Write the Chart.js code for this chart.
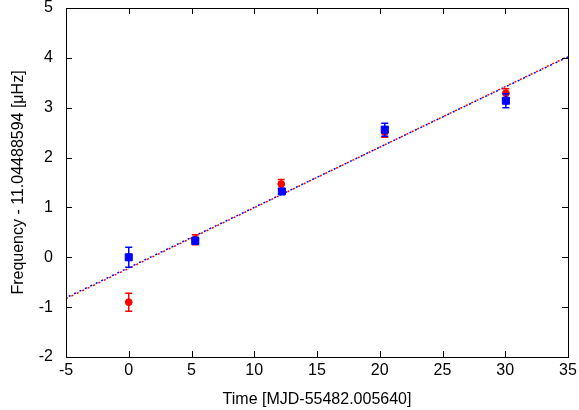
<!DOCTYPE html>
<html lang="en">

<head>
    <meta charset="UTF-8">
    <title>Frequency vs Time</title>
    <style>
        html, body { margin: 0; padding: 0; background: #fff; }
        #wrap { width: 579px; height: 410px; }
    </style>
</head>

<body>
    <div id="wrap"><canvas id="chart" width="579" height="410"></canvas></div>

    <script src="https://cdn.jsdelivr.net/npm/chart.js@4.4.0/dist/chart.umd.min.js"></script>

    <script>
        // data
        var redTime = [0, 5.3, 12.15, 20.4, 30.05];
        var redFreq = [-0.90, 0.35, 1.47, 2.51, 3.29];
        var redErr = [0.18, 0.10, 0.09, 0.10, 0.09];

        var blueTime = [0, 5.3, 12.2, 20.4, 30.05];
        var blueFreq = [0.0, 0.33, 1.32, 2.56, 3.14];
        var blueErr = [0.20, 0.07, 0.05, 0.13, 0.14];

        var fitX = [-5, 35];
        var redFit = [-0.83, 4.03];
        var blueFit = [-0.81, 4.02];

        var xTicks = [-5, 0, 5, 10, 15, 20, 25, 30, 35];
        var yTicks = [-2, -1, 0, 1, 2, 3, 4, 5];

        function pts(xs, ys) {
            return xs.map((x, i) => ({ x: x, y: ys[i] }));
        }

        // error bars drawn just before the points of each dataset
        const errorBars = {
            id: 'errorBars',
            beforeDatasetDraw(chart, args) {
                const ds = chart.data.datasets[args.index];
                if (!ds.errors) return;
                const ctx = chart.ctx;
                const xs = chart.scales.x, ys = chart.scales.y;
                ctx.save();
                ctx.strokeStyle = ds.borderColor;
                ctx.lineWidth = 1.5;
                ds.data.forEach((p, i) => {
                    const e = ds.errors[i];
                    const px = xs.getPixelForValue(p.x);
                    const top = ys.getPixelForValue(p.y + e);
                    const bot = ys.getPixelForValue(p.y - e);
                    ctx.beginPath();
                    ctx.moveTo(px, top); ctx.lineTo(px, bot);
                    ctx.moveTo(px - 3.5, top); ctx.lineTo(px + 3.5, top);
                    ctx.moveTo(px - 3.5, bot); ctx.lineTo(px + 3.5, bot);
                    ctx.stroke();
                });
                ctx.restore();
            }
        };

        // gnuplot style frame with inward ticks on all sides
        const frame = {
            id: 'frame',
            afterDraw(chart) {
                const ctx = chart.ctx;
                const a = chart.chartArea;
                const xs = chart.scales.x, ys = chart.scales.y;
                const len = 6;
                ctx.save();
                ctx.strokeStyle = '#000';
                ctx.lineWidth = 1;
                ctx.strokeRect(Math.round(a.left) + 0.5, Math.round(a.top) + 0.5,
                    Math.round(a.right - a.left), Math.round(a.bottom - a.top));
                ctx.beginPath();
                xTicks.forEach(v => {
                    const px = Math.round(xs.getPixelForValue(v)) + 0.5;
                    ctx.moveTo(px, a.bottom); ctx.lineTo(px, a.bottom - len);
                    ctx.moveTo(px, a.top); ctx.lineTo(px, a.top + len);
                });
                yTicks.forEach(v => {
                    const py = Math.round(ys.getPixelForValue(v)) + 0.5;
                    ctx.moveTo(a.left, py); ctx.lineTo(a.left + len, py);
                    ctx.moveTo(a.right, py); ctx.lineTo(a.right - len, py);
                });
                ctx.stroke();
                ctx.restore();
            }
        };

        Chart.defaults.font.family = '"Liberation Sans", Arial, sans-serif';
        Chart.defaults.color = '#000';

        new Chart(document.getElementById('chart'), {
            type: 'scatter',
            data: {
                datasets: [
                    {
                        label: 'blue',
                        data: pts(blueTime, blueFreq),
                        errors: blueErr,
                        pointStyle: 'rect',
                        pointRadius: 5,
                        pointBorderWidth: 1,
                        backgroundColor: '#0000ff',
                        borderColor: '#0000ff',
                        order: 1
                    },
                    {
                        label: 'red',
                        data: pts(redTime, redFreq),
                        errors: redErr,
                        pointStyle: 'circle',
                        pointRadius: 3.4,
                        pointBorderWidth: 1,
                        backgroundColor: '#ff0000',
                        borderColor: '#ff0000',
                        order: 2
                    },
                    {
                        label: 'blue fit',
                        data: pts(fitX, blueFit),
                        showLine: true,
                        pointRadius: 0,
                        borderColor: '#0000ff',
                        borderWidth: 1.5,
                        borderDash: [2, 4],
                        borderDashOffset: 3,
                        order: 3
                    },
                    {
                        label: 'red fit',
                        data: pts(fitX, redFit),
                        showLine: true,
                        pointRadius: 0,
                        borderColor: '#ff0000',
                        borderWidth: 1.5,
                        borderDash: [2, 4],
                        order: 4
                    }
                ]
            },
            options: {
                responsive: false,
                animation: false,
                layout: { padding: { top: 8, right: 11, left: 0, bottom: 0 } },
                plugins: {
                    legend: { display: false },
                    tooltip: { enabled: false }
                },
                scales: {
                    x: {
                        type: 'linear',
                        min: -5,
                        max: 35,
                        afterFit: s => { s.height = 53; s.paddingLeft = 0; s.paddingRight = 0; },
                        afterBuildTicks: s => { s.ticks = xTicks.map(v => ({ value: v })); },
                        grid: { display: false, drawTicks: false },
                        border: { display: false },
                        ticks: { font: { size: 16 }, padding: 4, maxRotation: 0 },
                        title: {
                            display: true,
                            text: 'Time [MJD-55482.005640]',
                            font: { size: 16 },
                            padding: { top: 0, bottom: 1 }
                        }
                    },
                    y: {
                        type: 'linear',
                        min: -2,
                        max: 5,
                        afterFit: s => { s.width = 66; s.paddingTop = 0; s.paddingBottom = 0; },
                        afterBuildTicks: s => { s.ticks = yTicks.map(v => ({ value: v })); },
                        grid: { display: false, drawTicks: false },
                        border: { display: false },
                        ticks: { font: { size: 16 }, padding: 13 },
                        title: {
                            display: true,
                            text: 'Frequency - 11.04488594 [μHz]',
                            font: { size: 16 },
                            padding: { top: 9, bottom: 0 }
                        }
                    }
                }
            },
            plugins: [errorBars, frame]
        });
    </script>
</body>

</html>
